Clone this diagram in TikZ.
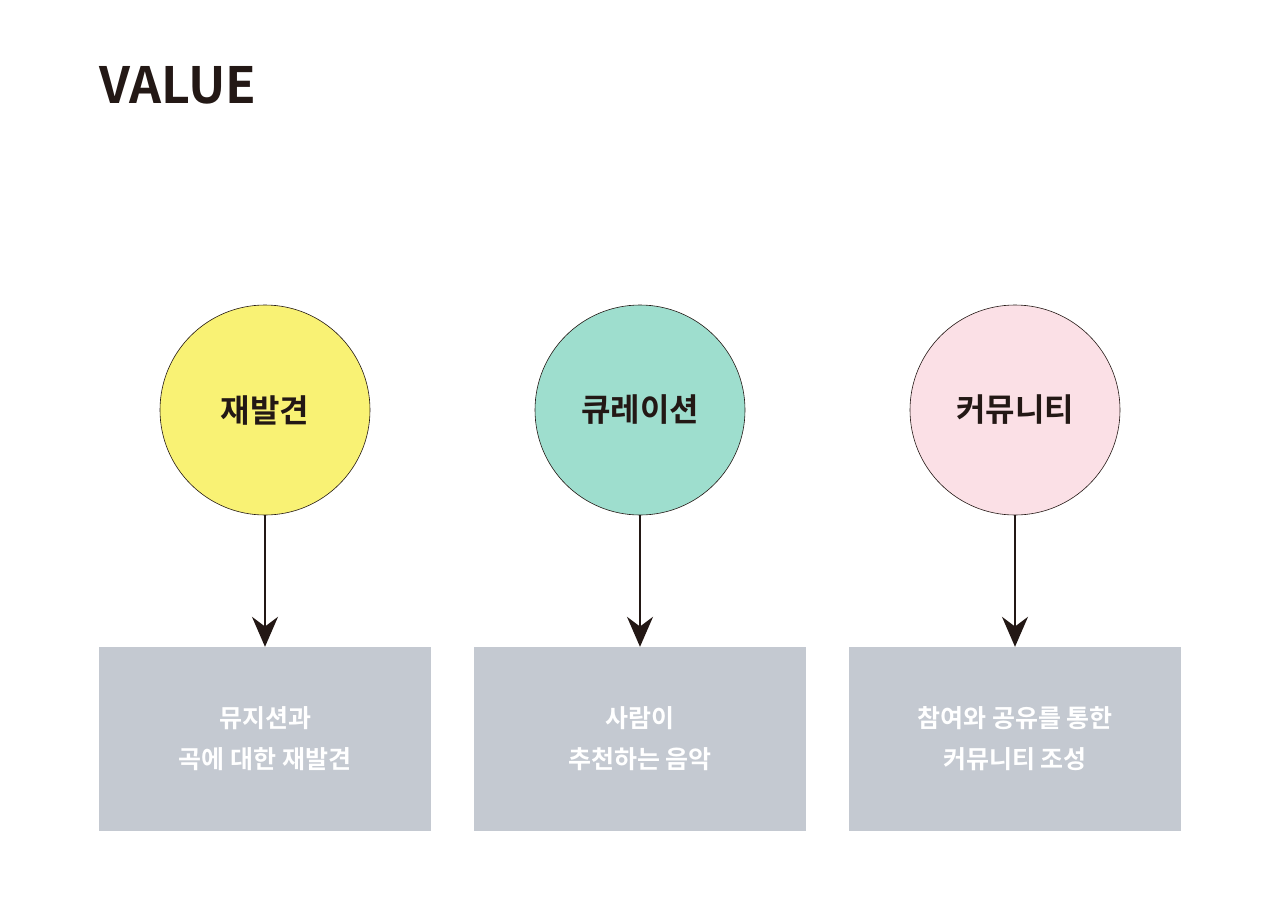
\documentclass[tikz,border=0pt]{standalone}
\usepackage{fontspec}
\newfontfamily\kr{Noto Sans CJK KR}[BoldFont={* Bold}]
\usetikzlibrary{arrows.meta}
\definecolor{cy}{HTML}{F9F274}
\definecolor{ct}{HTML}{9EDECE}
\definecolor{cp}{HTML}{FBE0E6}
\definecolor{cb}{HTML}{C4C9D1}
\definecolor{ink}{HTML}{231815}
\begin{document}
\begin{tikzpicture}[x=1pt,y=-1pt,
  circ/.style={circle,draw=ink,line width=0.6pt,minimum size=210pt,inner sep=0pt,font=\kr\bfseries\fontsize{32}{38}\selectfont,text=ink},
  box/.style={fill=cb,minimum width=332pt,minimum height=184pt,inner sep=0pt,align=center,text=white,font=\kr\bfseries\fontsize{25}{41}\selectfont},
  arr/.style={draw=ink,line width=1.6pt,-{Stealth[length=30pt,width=26pt]}}]
\useasboundingbox[fill=white] (0,0) rectangle (1280,905);
\node[anchor=west,font=\kr\bfseries\fontsize{50}{60}\selectfont,text=ink] (title) at (96,85) {VALUE};
\node[circ,fill=cy] (c1) at (265,410) {재발견};
\node[circ,fill=ct] (c2) at (640,410) {큐레이션};
\node[circ,fill=cp] (c3) at (1015,410) {커뮤니티};
\node[box] (b1) at (265,739) {뮤지션과\\곡에 대한 재발견};
\node[box] (b2) at (640,739) {사람이\\추천하는 음악};
\node[box] (b3) at (1015,739) {참여와 공유를 통한\\커뮤니티 조성};
\draw[arr] (c1.south) -- (b1.north);
\draw[arr] (c2.south) -- (b2.north);
\draw[arr] (c3.south) -- (b3.north);
\end{tikzpicture}
\end{document}
